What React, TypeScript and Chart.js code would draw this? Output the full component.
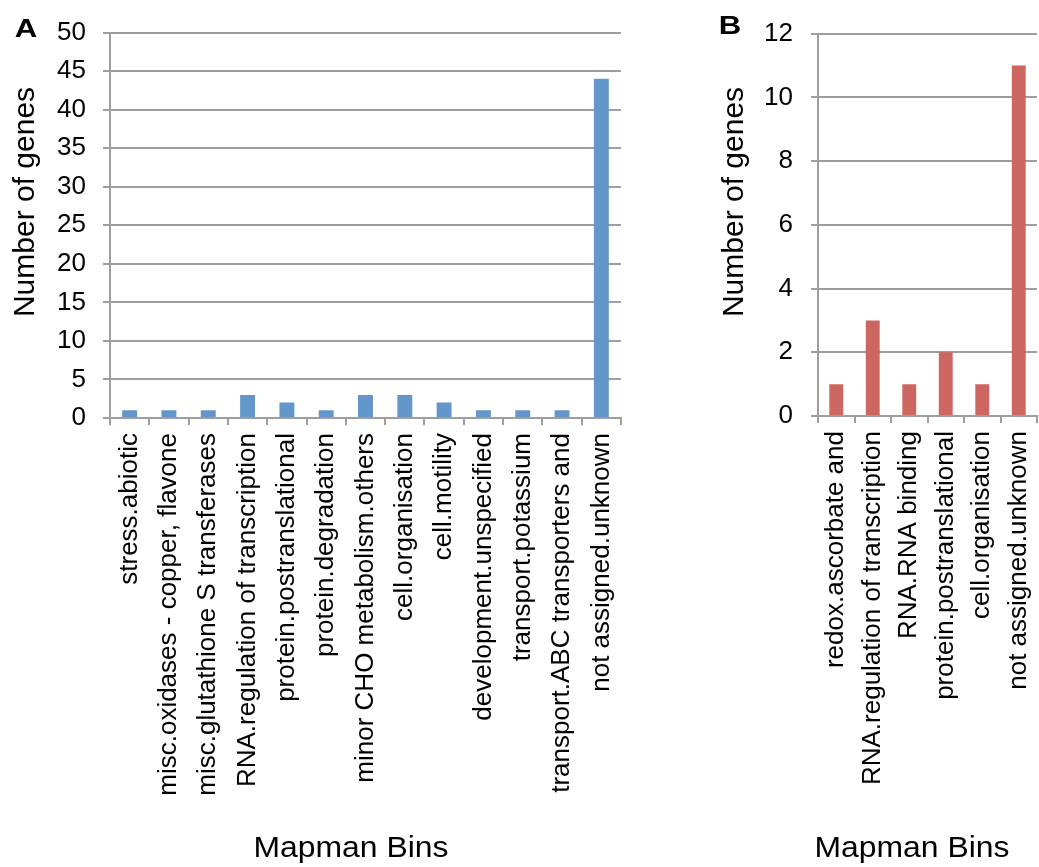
import React, { useEffect, useRef } from "react";
import { Chart, registerables } from "chart.js";

Chart.register(...registerables);

const FONT = '"Liberation Sans", Arial, Helvetica, sans-serif';

// ---------- Data ----------
const categoriesA = [
  "stress.abiotic",
  "misc.oxidases - copper, flavone",
  "misc.glutathione S transferases",
  "RNA.regulation of transcription",
  "protein.postranslational",
  "protein.degradation",
  "minor CHO metabolism.others",
  "cell.organisation",
  "cell.motility",
  "development.unspecified",
  "transport.potassium",
  "transport.ABC transporters and",
  "not assigned.unknown",
];
const valuesA = [1, 1, 1, 3, 2, 1, 3, 3, 2, 1, 1, 1, 44];

const categoriesB = [
  "redox.ascorbate and",
  "RNA.regulation of transcription",
  "RNA.RNA binding",
  "protein.postranslational",
  "cell.organisation",
  "not assigned.unknown",
];
const valuesB = [1, 3, 1, 2, 1, 11];

const yMaxA = 50;
const yStepA = 5;
const yMaxB = 12;
const yStepB = 2;

const yTitle = "Number of genes";
const xTitle = "Mapman Bins";

const GRID = "#9E9E9E";
const BLUE = "#6397CB";
const RED = "#CD6661";

type PanelProps = {
  left: number;
  width: number;
  categories: string[];
  values: number[];
  color: string;
  max: number;
  step: number;
  plotTop: number;
  plotBottom: number;
  yAxisWidth: number;
  padRight: number;
  tickPad: number;
  letter: string;
  letterX: number;
  letterY: number;
  yTitleX: number;
  yTitleY: number;
  xTitleX: number;
  xTitleY: number;
};

const HEIGHT = 867;

function Panel(p: PanelProps) {
  const ref = useRef<HTMLCanvasElement | null>(null);
  useEffect(() => {
    if (!ref.current) return;
    const textPlugin = {
      id: "panelText" + p.letter,
      afterDraw(chart: any) {
        const ctx = chart.ctx as CanvasRenderingContext2D;
        ctx.save();
        ctx.fillStyle = "#000";
        ctx.textAlign = "center";
        ctx.textBaseline = "alphabetic";
        // panel letter
        ctx.save();
        ctx.translate(p.letterX, p.letterY);
        ctx.scale(1.2, 1);
        ctx.font = `bold 26px ${FONT}`;
        ctx.fillText(p.letter, 0, 0);
        ctx.restore();
        // x title
        ctx.save();
        ctx.translate(p.xTitleX, p.xTitleY);
        ctx.scale(1.1, 1);
        ctx.font = `29px ${FONT}`;
        ctx.fillText(xTitle, 0, 0);
        ctx.restore();
        // y title
        ctx.save();
        ctx.translate(p.yTitleX, p.yTitleY);
        ctx.rotate(-Math.PI / 2);
        ctx.font = `30px ${FONT}`;
        ctx.fillText(yTitle, 0, 0);
        ctx.restore();
        ctx.restore();
      },
    };
    const chart = new Chart(ref.current, {
      type: "bar",
      data: {
        labels: p.categories,
        datasets: [
          {
            data: p.values,
            backgroundColor: p.color,
            borderWidth: 0,
            barPercentage: 0.38,
            categoryPercentage: 1,
          },
        ],
      },
      options: {
        responsive: false,
        animation: false,
        devicePixelRatio: 1,
        layout: {
          padding: { top: p.plotTop, left: 0, right: p.padRight, bottom: 0 },
        },
        plugins: {
          legend: { display: false },
          tooltip: { enabled: false },
          title: { display: false },
        },
        scales: {
          x: {
            offset: true,
            grid: {
              display: true,
              drawOnChartArea: false,
              drawTicks: true,
              tickLength: 7,
              color: GRID,
              lineWidth: 2,
              offset: true,
            },
            border: { display: true, color: GRID, width: 2 },
            ticks: {
              autoSkip: false,
              minRotation: 90,
              maxRotation: 90,
              padding: 8,
              color: "#000",
              font: { family: FONT, size: 26 },
            },
            afterFit(scale: any) {
              scale.height = HEIGHT - p.plotBottom;
              scale.paddingLeft = 0;
              scale.paddingRight = 0;
            },
          },
          y: {
            min: 0,
            max: p.max,
            grid: {
              color: GRID,
              lineWidth: 2,
              drawTicks: true,
              tickLength: 7,
            },
            border: { display: true, color: GRID, width: 2 },
            ticks: {
              stepSize: p.step,
              padding: p.tickPad,
              color: "#000",
              font: { family: FONT, size: 26 },
            },
            afterFit(scale: any) {
              scale.width = p.yAxisWidth;
            },
          },
        },
      },
      plugins: [textPlugin],
    });
    return () => chart.destroy();
  }, []);
  return (
    <canvas
      ref={ref}
      width={p.width}
      height={HEIGHT}
      style={{
        position: "absolute",
        left: p.left,
        top: 0,
        width: p.width,
        height: HEIGHT,
      }}
    />
  );
}

export default function App() {
  return (
    <div
      style={{
        position: "absolute",
        left: 0,
        top: 0,
        width: 1039,
        height: HEIGHT,
        background: "#fff",
        overflow: "hidden",
      }}
    >
      <Panel
        left={0}
        width={640}
        categories={categoriesA}
        values={valuesA}
        color={BLUE}
        max={yMaxA}
        step={yStepA}
        plotTop={30}
        plotBottom={418}
        yAxisWidth={110}
        padRight={19}
        tickPad={17}
        letter="A"
        letterX={26}
        letterY={37}
        yTitleX={34}
        yTitleY={202}
        xTitleX={351}
        xTitleY={857}
      />
      <Panel
        left={690}
        width={349}
        categories={categoriesB}
        values={valuesB}
        color={RED}
        max={yMaxB}
        step={yStepB}
        plotTop={26}
        plotBottom={416}
        yAxisWidth={128}
        padRight={2}
        tickPad={18}
        letter="B"
        letterX={40}
        letterY={34}
        yTitleX={53}
        yTitleY={202}
        xTitleX={222}
        xTitleY={857}
      />
    </div>
  );
}
